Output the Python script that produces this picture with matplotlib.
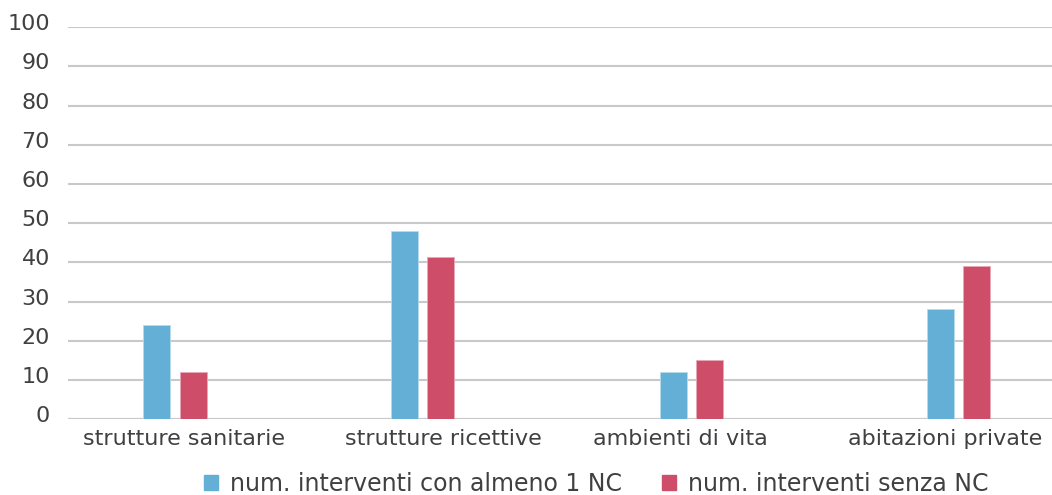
import numpy as np
import matplotlib
matplotlib.use("Agg")
import matplotlib.pyplot as plt
from matplotlib.patches import Patch
from matplotlib.transforms import ScaledTranslation

categories = ["strutture sanitarie", "strutture ricettive", "ambienti di vita", "abitazioni private"]
con_nc = [24, 48, 12, 28]
senza_nc = [12, 41.5, 15, 39]
series_names = ["num. interventi con almeno 1 NC", "num. interventi senza NC"]

# where each pair of bars sits inside its category slot
group_pos = [0.435, 1.441, 2.535, 3.621]
label_pos = [0.472, 1.528, 2.492, 3.569]

BLUE = "#63afd6"
RED = "#ce4d69"
GRID = "#c9c9c9"
TEXT = "#404040"

plt.rcParams['font.family'] = ['DejaVu Sans']

fig = plt.figure(figsize=(10.52, 4.95), dpi=100)
ax = fig.add_axes([0.0646, 0.153, 0.935, 0.792])

w = 0.11
step = 0.148
x = np.array(group_pos)
ax.bar(x - step / 2, con_nc, width=w, color=BLUE, edgecolor="#b8dcef", linewidth=0.6, zorder=3)
ax.bar(x + step / 2, senza_nc, width=w, color=RED, edgecolor="#e8a9b7", linewidth=0.6, zorder=3)

ax.set_xlim(0, 4)
ax.set_ylim(0, 100)
ax.set_yticks(np.arange(0, 101, 10))
ax.yaxis.grid(True, color=GRID, linewidth=1.5, zorder=0)
ax.axhline(0, color=GRID, linewidth=1.5, zorder=1)
for s in ax.spines.values():
    s.set_visible(False)
ax.tick_params(axis='both', length=0, labelsize=16, labelcolor=TEXT)
ax.tick_params(axis='y', pad=13)
ax.tick_params(axis='x', pad=7)
ax.set_xticks(label_pos)
ax.set_xticklabels(categories)

# y labels sit a little above their gridlines
lift = ScaledTranslation(0, 0.05, fig.dpi_scale_trans)
for t in ax.get_yticklabels():
    t.set_horizontalalignment('right')
    t.set_transform(t.get_transform() + lift)

handles = [Patch(color=BLUE), Patch(color=RED)]
fig.legend(handles, series_names, loc='center', bbox_to_anchor=(0.567, 0.022),
           ncol=2, frameon=False, fontsize=17, labelcolor=TEXT,
           handlelength=0.6, handleheight=0.6, handletextpad=0.5, columnspacing=1.7)

fig.savefig("out.png", dpi=100)
